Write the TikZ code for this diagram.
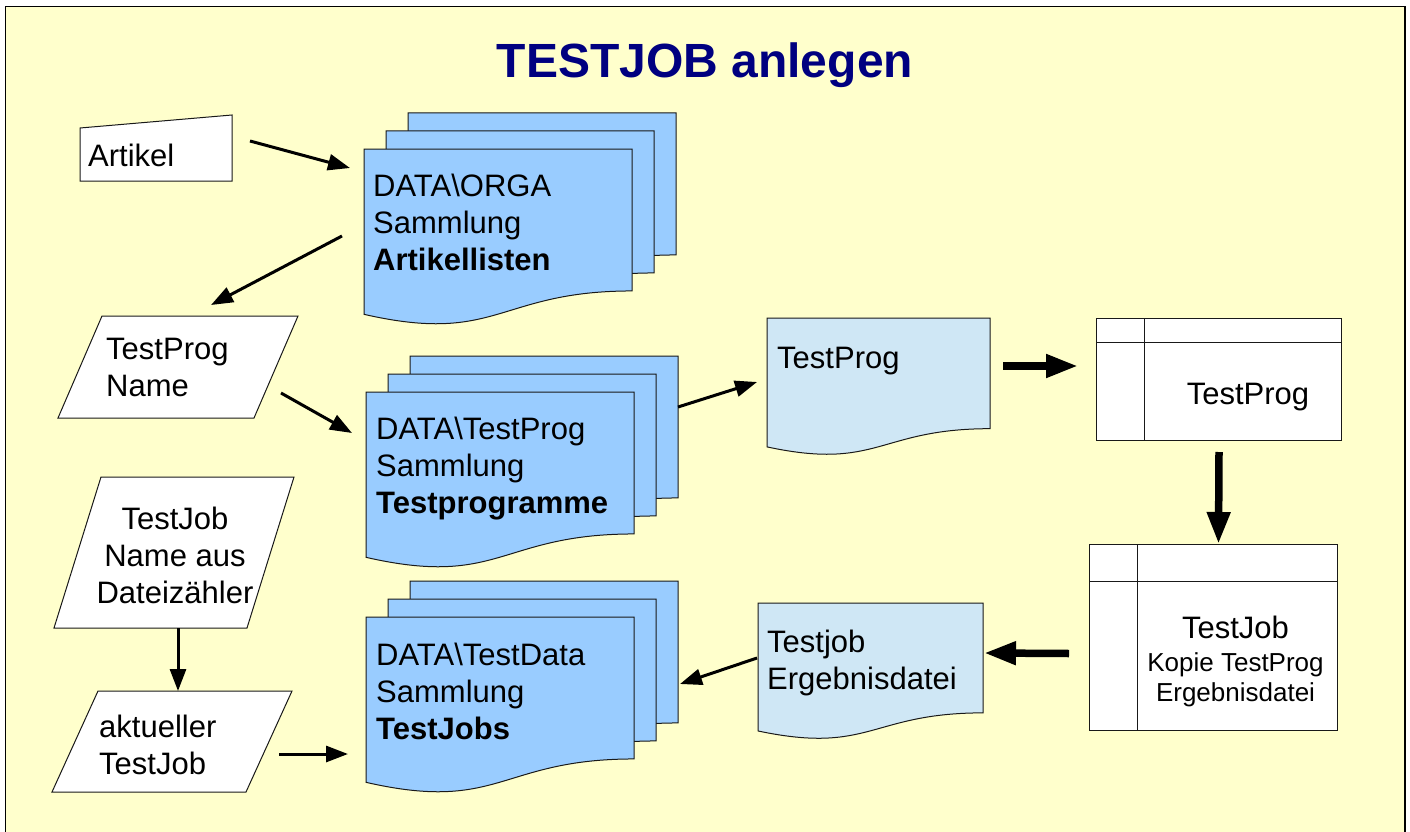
\documentclass[tikz,border=0pt]{standalone}
\usepackage{fontspec}
\setmainfont{Liberation Sans}
\usetikzlibrary{calc,arrows.meta}

\definecolor{bgyellow}{HTML}{FFFFCC}
\definecolor{sheetblue}{HTML}{99CCFF}
\definecolor{docblue}{HTML}{CFE7F5}
\definecolor{titleblue}{HTML}{000080}

% sheet with wavy bottom, drawn over an empty node
\newcommand{\docsheet}[2]{%
  \filldraw[fill=#2, draw=black!90, line width=1pt] (#1.north west) -- (#1.north east)
    -- ($(#1.north east)!0.802!(#1.south east)$)
    .. controls ($(#1.north)!0.802!(#1.south)$) and ($(#1.north)!1.1075!(#1.south)$)
    .. ($(#1.north west)!0.934!(#1.south west)$) -- cycle;}
% slanted input box
\newcommand{\slantbox}[2]{%
  \filldraw[fill=white, draw=black!90, line width=1pt] ([xshift=#2]#1.north west) -- (#1.north east)
    -- ([xshift=-#2]#1.south east) -- (#1.south west) -- cycle;}

\begin{document}
\begin{tikzpicture}[x=1pt, y=-1pt,
  shape box/.style={rectangle, draw=none, inner sep=0pt, outer sep=0pt, anchor=north west},
  sheet/.style={shape box, minimum width=268pt, minimum height=177pt},
  tablebox/.style={rectangle, draw=black!90, line width=1pt, fill=white, inner sep=0pt, anchor=north west},
  txt/.style={inner sep=0pt, align=left, font=\fontsize{31}{37}\selectfont},
  smalltxt/.style={inner sep=0pt, align=center, font=\fontsize{26}{30}\selectfont},
  thin/.style={line width=3pt, -{Triangle[length=22pt,width=16pt]}},
  thick/.style={line width=7.5pt, -{Triangle[length=32pt,width=22pt]}}]

  \useasboundingbox (0,0) rectangle (1410,832);
  \draw[line width=1.5pt, fill=bgyellow] (5.5,6.5) rectangle (1405,850);

  \node[font=\bfseries\fontsize{48}{56}\selectfont, text=titleblue] (title) at (705,65) {TESTJOB anlegen};

  % input boxes
  \node[shape box, minimum width=152pt, minimum height=66pt] (art) at (80,115) {};
  \filldraw[fill=white, draw=black!90, line width=1pt] (art.south west) -- ([shift={(0,13)}]art.north west)
    -- (art.north east) -- (art.south east) -- cycle;
  \node[txt, anchor=base west] at ([shift={(8,51)}]art.north west) {Artikel};

  \node[shape box, minimum width=240pt, minimum height=102pt] (tpname) at (58,316) {};
  \slantbox{tpname}{44pt}
  \node[txt, anchor=north west] at ([shift={(48,22)}]tpname.north west) {TestProg\\Name};

  \node[shape box, minimum width=240pt, minimum height=151pt] (tjname) at (54,477) {};
  \slantbox{tjname}{47pt}
  \node[txt, align=center, anchor=north] at ([shift={(1,30)}]tjname.north) {TestJob\\Name aus\\Dateizähler};

  \node[shape box, minimum width=240pt, minimum height=101pt] (akt) at (52,691) {};
  \slantbox{akt}{46pt}
  \node[txt, anchor=north west] at ([shift={(47,24)}]akt.north west) {aktueller\\TestJob};

  % stacked collections
  \foreach \s/\x/\y in {orga/364/149, prog/366/392, data/366/617} {
    \foreach \k in {2,1,0} {
      \node[sheet] (\s\k) at (\x+22*\k, \y-18*\k) {};
      \docsheet{\s\k}{sheetblue}
    }
  }
  \node[txt, anchor=north west] at ([shift={(9,25)}]orga0.north west) {DATA\textbackslash ORGA\\Sammlung\\\textbf{Artikellisten}};
  \node[txt, anchor=north west] at ([shift={(10,25)}]prog0.north west) {DATA\textbackslash TestProg\\Sammlung\\\textbf{Testprogramme}};
  \node[txt, anchor=north west] at ([shift={(10,26)}]data0.north west) {DATA\textbackslash TestData\\Sammlung\\\textbf{TestJobs}};

  % single documents
  \node[shape box, minimum width=223pt, minimum height=138pt] (tpdoc) at (767,318) {};
  \docsheet{tpdoc}{docblue}
  \node[txt, anchor=north west] at ([shift={(10,29)}]tpdoc.north west) {TestProg};

  \node[shape box, minimum width=225pt, minimum height=137pt] (jobdoc) at (758,603) {};
  \docsheet{jobdoc}{docblue}
  \node[txt, anchor=north west] at ([shift={(9,27)}]jobdoc.north west) {Testjob\\Ergebnisdatei};

  % tables
  \node[tablebox, minimum width=245pt, minimum height=122pt] (tab1) at (1096,318) {};
  \draw[black!90, line width=1pt] ([yshift=-24pt]tab1.north west) -- ([yshift=-24pt]tab1.north east)
    ([xshift=48pt]tab1.north west) -- ([xshift=48pt]tab1.south west);
  \node[txt, anchor=north] at ([shift={(29,65)}]tab1.north) {TestProg};

  \node[tablebox, minimum width=248pt, minimum height=186pt] (tab2) at (1089,544) {};
  \draw[black!90, line width=1pt] ([yshift=-37pt]tab2.north west) -- ([yshift=-37pt]tab2.north east)
    ([xshift=48pt]tab2.north west) -- ([xshift=48pt]tab2.south west);
  \node[txt, anchor=north] at ([shift={(22,72)}]tab2.north) {TestJob};
  \node[smalltxt, anchor=north] at ([shift={(22,108)}]tab2.north) {Kopie TestProg\\Ergebnisdatei};

  % connectors
  \draw[thin] ([shift={(18,26)}]art.north east) -- ([shift={(-14,19)}]orga0.north west);
  \draw[thin] ([shift={(-22,87)}]orga0.north west) -- ([shift={(33,-11)}]tpname.north);
  \draw[thin] ([shift={(-17,26)}]tpname.east) -- ([shift={(-14,41)}]prog0.north west);
  \draw[thin] ([shift={(0,51)}]prog2.north east) -- ([shift={(-10,64)}]tpdoc.north west);
  \draw[thick] ([shift={(13,48)}]tpdoc.north east) -- ([shift={(-18,48)}]tab1.north west);
  \draw[thick] ([shift={(0,11)}]tab1.south) -- ([shift={(5,0)}]tab2.north);
  \draw[thick] ([shift={(-20,16)}]tab2.west) -- ([shift={(1,50)}]jobdoc.north east);
  \draw[thin] ([shift={(-1,55)}]jobdoc.north west) -- ([shift={(2,103)}]data2.north east);
  \draw[thin] ([shift={(4,0)}]tjname.south) -- ([shift={(6,0)}]akt.north);
  \draw[thin] ([shift={(-13,12.5)}]akt.east) -- ([shift={(-18,137)}]data0.north west);

\end{tikzpicture}
\end{document}
